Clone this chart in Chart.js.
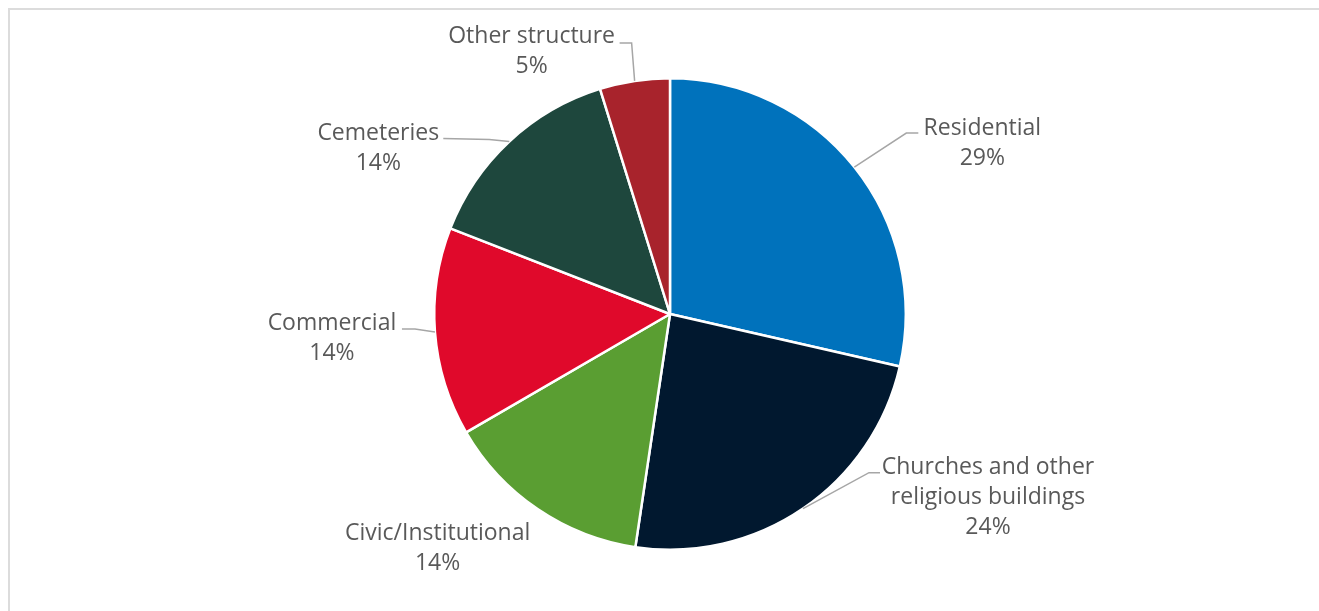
<!DOCTYPE html>
<html>
<head>
<meta charset="utf-8">
<script src="https://cdn.jsdelivr.net/npm/chart.js@4.4.1/dist/chart.umd.min.js"></script>
<style>
  html, body { margin: 0; padding: 0; background: #ffffff; }
  #wrap { position: relative; width: 1319px; height: 611px; }
  canvas { display: block; }
</style>
</head>
<body>
<div id="wrap"><canvas id="chart" width="1319" height="611"></canvas></div>
<script>
// Building types (share of sites, %)
const categories = ['Residential', 'Churches and other religious buildings', 'Civic/Institutional', 'Commercial', 'Cemeteries', 'Other structure'];
const labelLines = [['Residential'], ['Churches and other', 'religious buildings'], ['Civic/Institutional'], ['Commercial'], ['Cemeteries'], ['Other structure']];
const shares = [28.6, 23.8, 14.3, 14.3, 14.3, 4.8];
const sliceColors = ['#0072BC', '#01182F', '#5A9E32', '#E0092B', '#1E473D', '#A8232C'];

// Label placement relative to each slice's outer-edge midpoint:
// text centre offset, optional leader elbow and leader end.
const labelLayout = [
  { text: [128, -24], elbow: [52, -34], end: [64, -34] },
  { text: [185, -11], elbow: [66, -36], end: [77, -36] },
  { text: [-100, 39], elbow: null, end: null },
  { text: [-103, 6], elbow: [-20, -3], end: [-33, -3] },
  { text: [-131, 7], elbow: [-20, -2], end: [-66, -3] },
  { text: [-103, -29], elbow: [-3, -38], end: [-15, -38] }
];

const FONT = '23px "Open Sans", "Liberation Sans", sans-serif';
const LINE_H = 30;

const framePlugin = {
  id: 'frame',
  beforeDraw(chart) {
    const c = chart.ctx;
    c.save();
    c.strokeStyle = '#dcdcdc';
    c.lineWidth = 2;
    c.beginPath();
    c.moveTo(9, chart.height);
    c.lineTo(9, 9);
    c.lineTo(chart.width, 9);
    c.stroke();
    c.restore();
  }
};

const labelPlugin = {
  id: 'sliceLabels',
  afterDatasetsDraw(chart) {
    const c = chart.ctx;
    const meta = chart.getDatasetMeta(0);
    const total = shares.reduce((a, b) => a + b, 0);
    c.save();
    meta.data.forEach((arc, i) => {
      const p = arc.getProps(['x', 'y', 'startAngle', 'endAngle', 'outerRadius'], true);
      const mid = (p.startAngle + p.endAngle) / 2;
      const ex = p.x + Math.cos(mid) * p.outerRadius;
      const ey = p.y + Math.sin(mid) * p.outerRadius;
      const L = labelLayout[i];
      if (L.elbow) {
        c.strokeStyle = '#a6a6a6';
        c.lineWidth = 1.5;
        c.beginPath();
        c.moveTo(ex, ey);
        c.lineTo(ex + L.elbow[0], ey + L.elbow[1]);
        c.lineTo(ex + L.end[0], ey + L.end[1]);
        c.stroke();
      }
      const pct = Math.round(shares[i] / total * 100) + '%';
      const lines = labelLines[i].concat([pct]);
      const cx = ex + L.text[0];
      const cy = ey + L.text[1];
      c.font = FONT;
      c.fillStyle = '#595959';
      c.textAlign = 'center';
      c.textBaseline = 'middle';
      const top = cy - (lines.length - 1) * LINE_H / 2;
      lines.forEach((t, k) => c.fillText(t, cx, top + k * LINE_H));
    });
    c.restore();
  }
};

new Chart(document.getElementById('chart'), {
  type: 'pie',
  data: {
    labels: categories,
    datasets: [{
      data: shares,
      backgroundColor: sliceColors,
      borderColor: '#ffffff',
      borderWidth: 2.5
    }]
  },
  options: {
    responsive: false,
    animation: false,
    layout: { padding: { left: 433, right: 412, top: 77, bottom: 60 } },
    plugins: {
      legend: { display: false },
      tooltip: { enabled: false }
    }
  },
  plugins: [framePlugin, labelPlugin]
});
</script>
</body>
</html>
